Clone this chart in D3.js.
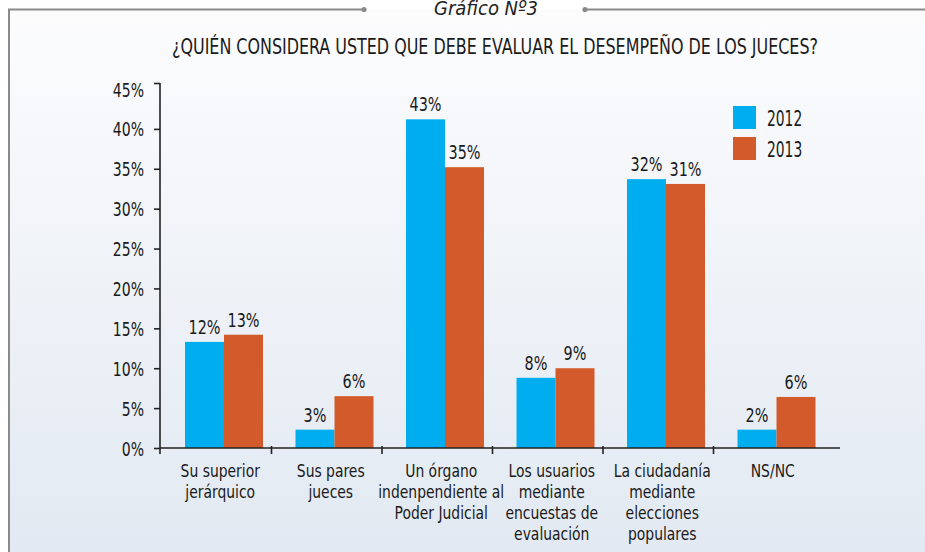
<!DOCTYPE html>
<html><head><meta charset="utf-8">
<script src="https://cdn.jsdelivr.net/npm/d3@7"></script>
<style>html,body{margin:0;padding:0;background:#fff;overflow:hidden}</style>
</head><body>
<svg id="c" width="925" height="552"></svg>
<script>
const categories = [
  ["Su superior", "jerárquico"],
  ["Sus pares", "jueces"],
  ["Un órgano", "indenpendiente al", "Poder Judicial"],
  ["Los usuarios", "mediante", "encuestas de", "evaluación"],
  ["La ciudadanía", "mediante", "elecciones", "populares"],
  ["NS/NC"]
];
const series = ["2012", "2013"];
const values2012 = [13.3, 2.3, 41.2, 8.8, 33.7, 2.3];
const values2013 = [14.2, 6.5, 35.2, 10.0, 33.1, 6.4];
const labels2012 = ["12%", "3%", "43%", "8%", "32%", "2%"];
const labels2013 = ["13%", "6%", "35%", "9%", "31%", "6%"];
const yTicks = [0, 5, 10, 15, 20, 25, 30, 35, 40, 45];
const colors = ["#00aeef", "#d35b2b"];

const svg = d3.select("#c");
const font = "'DejaVu Sans Condensed','DejaVu Sans',sans-serif";

function condense(sel, k) {
  sel.each(function() {
    const ax = +this.getAttribute("x") || 0;
    const prev = this.getAttribute("transform") || "";
    this.setAttribute("transform", prev + ` translate(${ax},0) scale(${k},1) translate(${-ax},0)`);
  });
}

// background
const defs = svg.append("defs");
const g = defs.append("linearGradient").attr("id","bg").attr("x1",0).attr("y1",0).attr("x2",0).attr("y2",1);
g.append("stop").attr("offset","0%").attr("stop-color","#fcfcfd");
g.append("stop").attr("offset","100%").attr("stop-color","#e2e9f2");
svg.append("rect").attr("x",9).attr("y",9).attr("width",916).attr("height",543).attr("fill","url(#bg)");

// frame
const frame = svg.append("g").attr("stroke","#8a8a8a").attr("stroke-width",2).attr("fill","none");
frame.append("path").attr("d","M9,552 V9.5 H363");
frame.append("path").attr("d","M586,9.5 H925");
svg.append("circle").attr("cx",364).attr("cy",9.5).attr("r",2.6).attr("fill","#8a8a8a");
svg.append("circle").attr("cx",585).attr("cy",9.5).attr("r",2.6).attr("fill","#8a8a8a");
svg.append("text").attr("x",486).attr("y",15).attr("text-anchor","middle")
  .attr("font-family",font).attr("font-style","italic").attr("font-size",20).attr("fill","#222")
  .attr("textLength",104).attr("lengthAdjust","spacingAndGlyphs").text("Gráfico Nº3");

svg.append("text").attr("x",495).attr("y",54).attr("text-anchor","middle")
  .attr("font-family",font).attr("font-size",21.5).attr("fill","#1a1a1a")
  .attr("textLength",646).attr("lengthAdjust","spacingAndGlyphs")
  .text("¿QUIÉN CONSIDERA USTED QUE DEBE EVALUAR EL DESEMPEÑO DE LOS JUECES?");

// scales
const x0 = d3.scaleBand().domain(d3.range(categories.length)).range([161, 824]);
const x1 = d3.scaleBand().domain(series).range([24, 24 + 78]);
const y = d3.scaleLinear().domain([0, 45]).range([448, 89]);

// bars
const data = categories.map((c, i) => ({i, vals: [
  {s: "2012", v: values2012[i], l: labels2012[i], c: colors[0]},
  {s: "2013", v: values2013[i], l: labels2013[i], c: colors[1]}
]}));
const grp = svg.append("g").selectAll("g").data(data).join("g")
  .attr("transform", d => `translate(${x0(d.i)},0)`);
grp.selectAll("rect").data(d => d.vals).join("rect")
  .attr("x", d => x1(d.s)).attr("width", x1.bandwidth())
  .attr("y", d => y(d.v)).attr("height", d => y(0) - y(d.v))
  .attr("fill", d => d.c);
const dl = grp.selectAll("text").data(d => d.vals).join("text")
  .attr("x", d => x1(d.s) + x1.bandwidth()/2).attr("y", d => y(d.v) - 8)
  .attr("text-anchor","middle").attr("font-family",font).attr("font-size",20).attr("fill","#1a1a1a")
  .text(d => d.l);
condense(dl, 0.8);

// y axis
const yAxis = svg.append("g").attr("transform","translate(160,0)")
  .call(d3.axisLeft(y).tickValues(yTicks).tickFormat(d => d + "%").tickSize(6).tickSizeOuter(0));
yAxis.select(".domain").attr("d","M0,83V454").attr("stroke","#222").attr("stroke-width",1.6);
yAxis.selectAll(".tick line").attr("stroke","#222").attr("stroke-width",1.6);
yAxis.selectAll(".tick").filter(d => d === 45).select("line").attr("transform","translate(0,-6)");
const yt = yAxis.selectAll(".tick text").attr("font-family",font).attr("font-size",20).attr("fill","#1a1a1a")
  .attr("x",-16).attr("dy","0.35em");
condense(yt, 0.78);

// x axis
const xAxis = svg.append("g").attr("transform","translate(0,448)");
xAxis.append("line").attr("x1",160).attr("x2",840).attr("stroke","#222").attr("stroke-width",1.6);
xAxis.selectAll("line.t").data(d3.range(1, categories.length)).join("line").attr("class","t")
  .attr("x1", d => x0(d)).attr("x2", d => x0(d)).attr("y1",-2).attr("y2",6)
  .attr("stroke","#222").attr("stroke-width",1.6);
const cl = svg.append("g").selectAll("text").data(categories).join("text")
  .attr("x", (d,i) => x0(i) + x0.bandwidth()/2 + 4).attr("y", 477)
  .attr("text-anchor","middle").attr("font-family",font).attr("font-size",18).attr("fill","#1a1a1a");
cl.selectAll("tspan").data(d => d).join("tspan")
  .attr("x", function(){ return this.parentNode.getAttribute("x"); })
  .attr("dy", (d,j) => j === 0 ? 0 : 21).text(d => d);
condense(cl, 0.86);

// legend
const leg = svg.append("g").selectAll("g").data(series).join("g")
  .attr("transform", (d,i) => `translate(733,${106 + i*31})`);
leg.append("rect").attr("width",23).attr("height",23).attr("fill",(d,i) => colors[i]);
const lt = leg.append("text").attr("x",34).attr("y",12).attr("dy","0.35em")
  .attr("font-family",font).attr("font-size",22).attr("fill","#1a1a1a").text(d => d);
condense(lt, 0.7);
</script>
</body></html>
